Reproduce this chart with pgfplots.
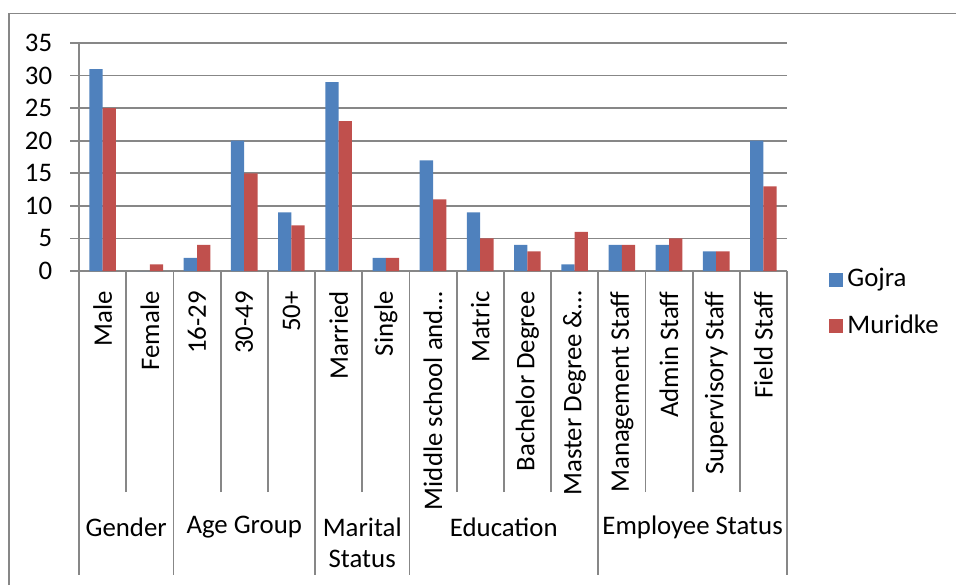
\documentclass[border=0pt]{standalone}
\usepackage{pgfplots}
\pgfplotsset{compat=1.18}
\usepackage{fontspec}
\setmainfont{Carlito}
\definecolor{gblue}{HTML}{4F81BD}
\definecolor{mred}{HTML}{C0504D}
\definecolor{gridgray}{HTML}{878787}
\begin{document}
\fontsize{13.4}{15.5}\selectfont
\begin{tikzpicture}
\useasboundingbox (0pt,0pt) rectangle (478pt,292.5pt);
\draw[gridgray, line width=0.9pt] (4.35pt,0pt) -- (4.35pt,285.75pt) -- (478pt,285.75pt);
\begin{axis}[
  at={(39.5pt,157pt)}, anchor=south west,
  scale only axis, width=354pt, height=114pt,
  xmin=-0.5, xmax=14.5, ymin=0, ymax=35,
  ybar=0pt, bar width=6.65pt,
  axis lines*=left,
  axis line style={gridgray, line width=0.9pt},
  tick align=outside,
  major tick length=4.5pt,
  minor tick length=110.5pt,
  ytick={0,5,...,35},
  ymajorgrids, grid style={gridgray, line width=0.9pt},
  every tick/.style={gridgray, line width=0.9pt},
  major x tick style={draw=none},
  xtick={0,...,14},
  minor xtick={0.5,1.5,...,14.5},
  xticklabels={Male,Female,16-29,30-49,50+,Married,Single,Middle school and…,Matric,Bachelor Degree,Master Degree \&…,Management Staff,Admin Staff,Supervisory Staff,Field Staff},
  xticklabel style={rotate=90, anchor=east, inner sep=0pt, text=black},
  xticklabel shift=5.5pt,
  yticklabel style={text=black, xshift=-4.25pt},
  /pgf/number format/assume math mode=true,
  clip=false,
  legend style={at={(axis description cs:1,0)}, anchor=west, xshift=21pt, yshift=-16pt, draw=none, fill=none, inner sep=0pt, row sep=8pt},
  legend cell align=left,
  legend image code/.code={\fill[#1] (0pt,-3.5pt) rectangle (7pt,3.5pt);},
]
\addplot[fill=gblue, draw=none] coordinates {(0,31) (1,0) (2,2) (3,20) (4,9) (5,29) (6,2) (7,17) (8,9) (9,4) (10,1) (11,4) (12,4) (13,3) (14,20)};
\addplot[fill=mred, draw=none] coordinates {(0,25) (1,1) (2,4) (3,15) (4,7) (5,23) (6,2) (7,11) (8,5) (9,3) (10,6) (11,4) (12,5) (13,3) (14,13)};
\legend{Gojra,Muridke}
\pgfplotsinvokeforeach{-0.5,1.5,4.5,6.5,10.5,14.5}{
  \draw[gridgray, line width=0.9pt] (axis cs:#1,0) -- ++(0pt,-152pt);
}
\node at (axis cs:0.5,0) [yshift=-128pt] {Gender};
\node at (axis cs:3,0) [yshift=-128pt] {Age Group};
\node at (axis cs:5.5,0) [yshift=-135.75pt, align=center, inner sep=0pt] {Marital\\Status};
\node at (axis cs:8.5,0) [yshift=-128pt] {Education};
\node at (axis cs:12.5,0) [yshift=-128pt] {Employee Status};
\end{axis}
\end{tikzpicture}
\end{document}
